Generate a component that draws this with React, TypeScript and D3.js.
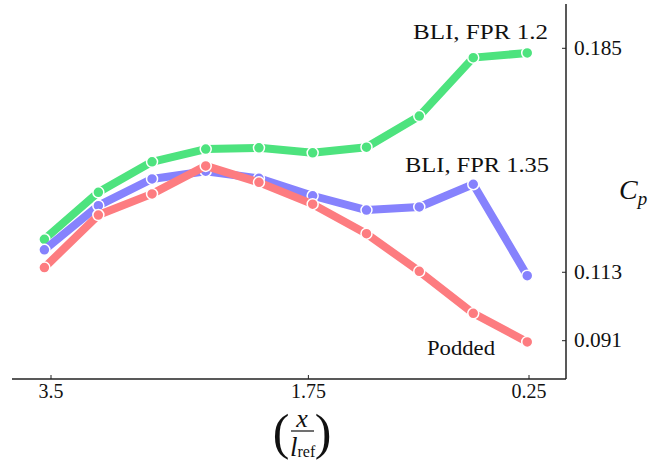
import React from "react";
import * as d3 from "d3";

const xPositions = [3.545, 3.178, 2.813, 2.448, 2.086, 1.721, 1.355, 0.996, 0.629, 0.262];
const greenSeries = [0.1236, 0.1387, 0.1485, 0.1526, 0.153, 0.1514, 0.1532, 0.1632, 0.182, 0.1835];
const blueSeries = [0.1202, 0.1344, 0.143, 0.1455, 0.1432, 0.1376, 0.133, 0.134, 0.1413, 0.1119];
const redSeries = [0.1145, 0.1314, 0.1382, 0.1472, 0.1419, 0.1349, 0.1254, 0.1133, 0.0998, 0.0906];
const xTicks = [3.5, 1.75, 0.25];
const xTickLabels = ["3.5", "1.75", "0.25"];
const yTicks = [0.185, 0.113, 0.091];
const yTickLabels = ["0.185", "0.113", "0.091"];
const seriesNames = ["BLI, FPR 1.2", "BLI, FPR 1.35", "Podded"];

const COLORS = ["#4de37e", "#8682fd", "#fd7c80"];
const SERIF = "Liberation Serif, Tinos, Times New Roman, serif";
const fs = (size: number, italic = false): React.CSSProperties => ({
  fontFamily: SERIF,
  fontSize: size,
  fontStyle: italic ? "italic" : "normal",
});

export default function App() {
  const x = d3.scaleLinear().domain([3.5, 0.25]).range([51, 529]);
  const y = d3.scaleLinear().domain([0.091, 0.185]).range([340.7, 48.3]);
  const axisX = 566;
  const axisY = 379;
  const line = d3
    .line<number>()
    .x((_, i) => x(xPositions[i]))
    .y((d) => y(d));
  const series = [greenSeries, blueSeries, redSeries];

  const labels = [
    { x: 548, y: 39, len: 135 },
    { x: 549, y: 172, len: 144 },
    { x: 495, y: 355, len: 68 },
  ];

  return (
    <svg
      width={664}
      height={462}
      style={{ position: "absolute", left: 0, top: 0, background: "#fff" }}
    >
      {/* axes */}
      <line x1={12} x2={axisX} y1={axisY} y2={axisY} stroke="#222" strokeWidth={1.5} />
      <line x1={axisX} x2={axisX} y1={4} y2={axisY} stroke="#222" strokeWidth={1.5} />
      {xTicks.map((t, i) => (
        <g key={"xt" + i}>
          <line x1={x(t)} x2={x(t)} y1={axisY} y2={axisY - 4} stroke="#222" strokeWidth={1} />
          <text x={x(t)} y={398} textAnchor="middle" style={fs(20)} fill="#111">
            {xTickLabels[i]}
          </text>
        </g>
      ))}
      {yTicks.map((t, i) => (
        <g key={"yt" + i}>
          <line x1={axisX} x2={axisX - 4} y1={y(t)} y2={y(t)} stroke="#222" strokeWidth={1} />
          <text x={574} y={y(t) + 6.5} style={fs(20)} fill="#111" textLength={48} lengthAdjust="spacingAndGlyphs">
            {yTickLabels[i]}
          </text>
        </g>
      ))}

      {/* series */}
      {series.map((s, si) => (
        <g key={"s" + si}>
          <path
            d={line(s) || ""}
            fill="none"
            stroke={COLORS[si]}
            strokeWidth={8}
            strokeLinejoin="round"
          />
          {s.map((v, i) => (
            <circle
              key={i}
              cx={x(xPositions[i])}
              cy={y(v)}
              r={5.5}
              fill={COLORS[si]}
              stroke="#fff"
              strokeWidth={1.5}
            />
          ))}
        </g>
      ))}

      {/* series labels */}
      {seriesNames.map((n, i) => (
        <text
          key={"lab" + i}
          x={labels[i].x - labels[i].len}
          y={labels[i].y}
          style={fs(22)}
          fill="#111"
          textLength={labels[i].len}
          lengthAdjust="spacingAndGlyphs"
        >
          {n}
        </text>
      ))}

      {/* y label */}
      <text x={619} y={199} style={fs(28, true)} fill="#111">
        C
        <tspan style={fs(19, true)} dy={6}>
          p
        </tspan>
      </text>

      {/* x label */}
      <g fill="#111">
        <text x={281} y={449} style={fs(50)} textAnchor="middle">
          (
        </text>
        <text x={323} y={449} style={fs(50)} textAnchor="middle">
          )
        </text>
        <text x={302} y={427} style={fs(26, true)} textAnchor="middle">
          x
        </text>
        <line x1={291} x2={314} y1={431} y2={431} stroke="#111" strokeWidth={1.2} />
        <text x={290} y={456} style={fs(27, true)}>
          l
          <tspan style={fs(16)} dy={1}>
            ref
          </tspan>
        </text>
      </g>
    </svg>
  );
}
